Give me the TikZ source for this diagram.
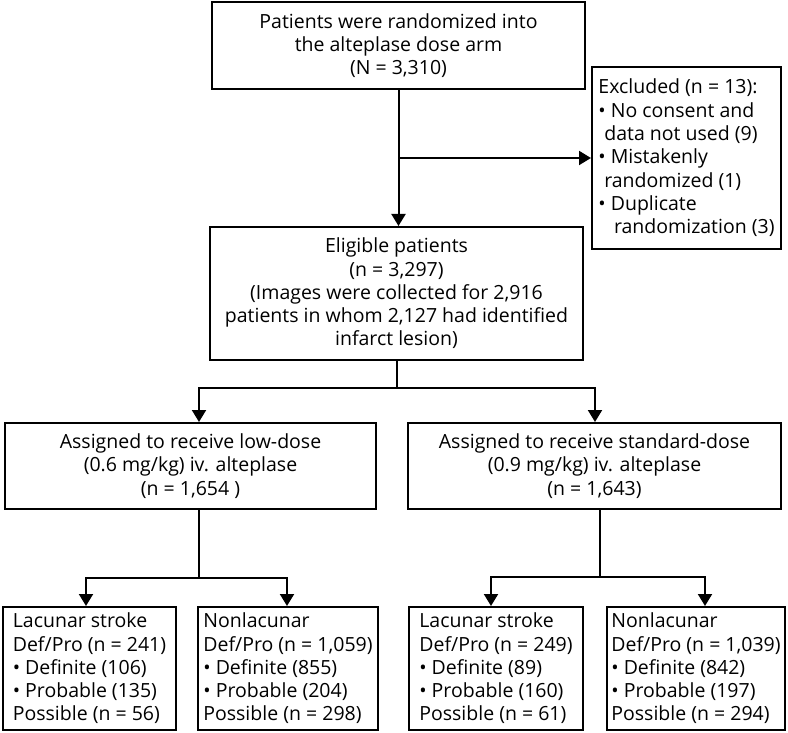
\documentclass[tikz,border=0pt]{standalone}
\usepackage{fontspec}
\setmainfont{Open Sans}
\usetikzlibrary{arrows.meta}

\tikzset{box/.style={draw, line width=2pt, font=\fontsize{19.5}{23.3}\selectfont, inner sep=2pt},
  cbox/.style={box, align=center},
  lbox/.style={box, align=left},
  conn/.style={line width=2pt},
  arr/.style={-{Triangle[width=14pt,length=12pt]}}}

\begin{document}
\begin{tikzpicture}[x=1pt,y=-1pt]
\useasboundingbox (0,0) rectangle (788,733);
% boxes
\node[cbox, minimum width=373pt, minimum height=87pt] (top) at (398.5,45.5) {Patients were randomized into\\the alteplase dose arm\\(N = 3,310)};
\node[lbox, minimum width=189pt, minimum height=182pt] (excl) at (686.5,158) {Excluded (n = 13):\\
• No consent and\\\hspace*{0.3em}data not used (9)\\
• Mistakenly\\\hspace*{0.3em}randomized (1)\\
• Duplicate\\\hspace*{0.8em}randomization (3)};
\node[cbox, minimum width=373pt, minimum height=133pt] (elig) at (396.5,293.5) {Eligible patients\\(n = 3,297)\\(Images were collected for 2,916\\patients in whom 2,127 had identified\\infarct lesion)};
\node[cbox, minimum width=371pt, minimum height=86pt] (low) at (190.5,466) {Assigned to receive low-dose\\(0.6 mg/kg) iv. alteplase\\(n = 1,654 )};
\node[cbox, minimum width=373pt, minimum height=86pt] (std) at (594.5,466) {Assigned to receive standard-dose\\(0.9 mg/kg) iv. alteplase\\(n = 1,643)};
\node[lbox, minimum width=173pt, minimum height=123pt] (lac1) at (89.5,668.5) {Lacunar stroke\\Def/Pro (n = 241)\\• Definite (106)\\• Probable (135)\\Possible (n = 56)};
\node[lbox, minimum width=180pt, minimum height=123pt] (non1) at (288,668.5) {Nonlacunar\\Def/Pro (n = 1,059)\\• Definite (855)\\• Probable (204)\\Possible (n = 298)};
\node[lbox, minimum width=174pt, minimum height=123pt] (lac2) at (496,668.5) {Lacunar stroke\\Def/Pro (n = 249)\\• Definite (89)\\• Probable (160)\\Possible (n = 61)};
\node[lbox, minimum width=178pt, minimum height=123pt] (non2) at (696,668.5) {Nonlacunar\\Def/Pro (n = 1,039)\\• Definite (842)\\• Probable (197)\\Possible (n = 294)};
% junctions
\coordinate (j1) at (top.south |- excl.west);
\coordinate (s1) at (199,388);
\coordinate (s2) at (595,388);
\coordinate (s3) at (86,578);
\coordinate (s4) at (287,578);
\coordinate (s5) at (491,577);
\coordinate (s6) at (705,577);
\coordinate (s7) at (600,577);
% connectors
\draw[conn, arr] (top.south) -- (top.south |- elig.north);
\draw[conn, arr] (j1) -- (excl.west);
\draw[conn, arr] (elig.south) -- (elig.south |- s1) -| (s1 |- low.north);
\draw[conn, arr] (elig.south |- s2) -| (s2 |- std.north);
\draw[conn, arr] (s1 |- low.south) |- (s3) -- (s3 |- lac1.north);
\draw[conn, arr] (s1 |- s4) -- (s4) -- (s4 |- non1.north);
\draw[conn] (s7 |- std.south) -- (s7);
\draw[conn, arr] (s7) -| (s5 |- lac2.north);
\draw[conn, arr] (s7) -| (s6 |- non2.north);
\end{tikzpicture}
\end{document}
